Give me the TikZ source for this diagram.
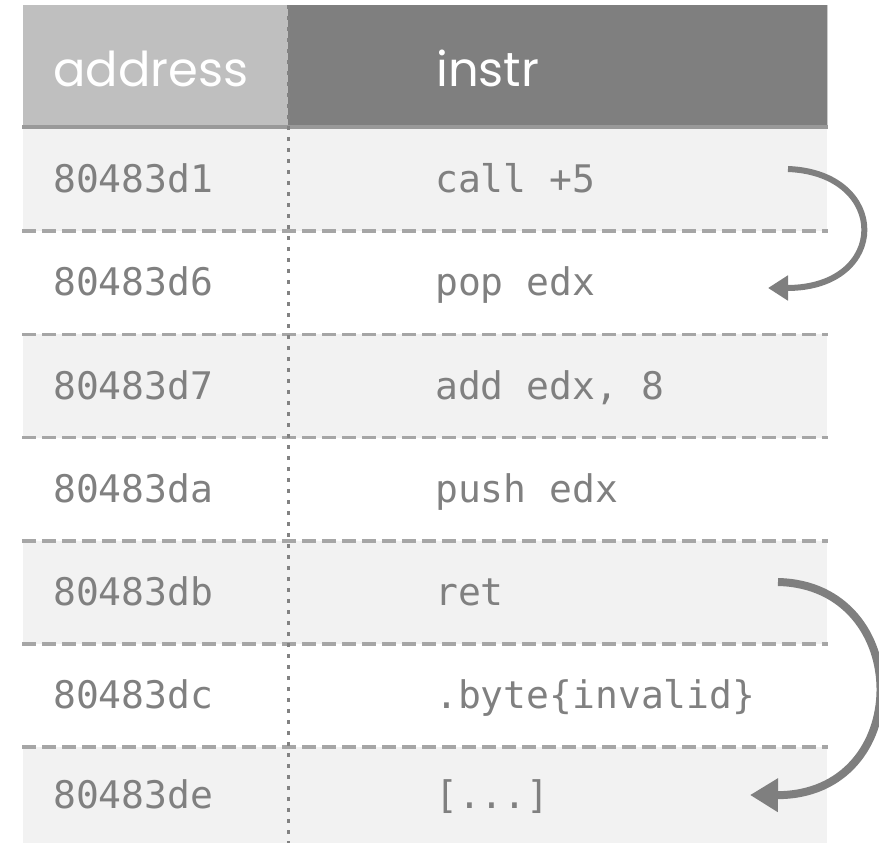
\documentclass[tikz,border=0pt]{standalone}
\usepackage{fontspec}
\setmainfont{Poppins}
\newfontfamily\monofont{DejaVu Sans Mono}
\usetikzlibrary{arrows.meta}
\definecolor{hdrlight}{HTML}{BFBFBF}
\definecolor{hdrdark}{HTML}{7F7F7F}
\definecolor{rowfill}{HTML}{F2F2F2}
\definecolor{linegray}{HTML}{A6A6A6}
\definecolor{txtgray}{HTML}{808080}
\definecolor{rulegray}{HTML}{999999}
\begin{document}
\begin{tikzpicture}[x=1pt,y=-1pt,
  hdrtext/.style={anchor=base west, inner sep=0pt, text=white, font=\fontsize{48}{52}\selectfont},
  celltext/.style={anchor=base west, inner sep=0pt, text=txtgray, font=\monofont\fontsize{38}{40}\selectfont},
  rowsep/.style={draw=linegray, line width=3.5pt, dash pattern=on 14pt off 6pt},
  jump/.style={draw=hdrdark, line width=6pt, -{Triangle[length=20pt,width=24pt]}},
  bigjump/.style={draw=hdrdark, line width=8pt, -{Triangle[length=28pt,width=32pt]}},
]
\useasboundingbox (0,0) rectangle (879,846);
% header
\fill[hdrlight] (23,5) rectangle (288,127);
\fill[hdrdark] (288,5) rectangle (827,127);
\draw[white!80!black, line width=1pt] (827,5) -- (827,127);
% row fills
\fill[rowfill] (23,128) rectangle (827,231.2);
\fill[rowfill] (23,334.4) rectangle (827,437.6);
\fill[rowfill] (23,540.8) rectangle (827,644);
\fill[rowfill] (23,747.2) rectangle (827,843);
% header rule
\draw[rulegray, line width=4pt] (22,127) -- (828,127);
% row separators
\foreach \y in {231.2,334.4,437.6,540.8,644,747.2}
  \draw[rowsep] (22,\y) -- (828,\y);
% column divider
\draw[rulegray!85!black, line width=3pt, dash pattern=on 4pt off 7pt] (288,5) -- (288,843);
% header text
\node[hdrtext] (haddr) at (53,86) {address};
\node[hdrtext] (hinstr) at (436,86) {instr};
% rows
\node[celltext] (a1) at (53,192.6) {80483d1};
\node[celltext] (i1) at (435,192.6) {call +5};
\node[celltext] (a2) at (53,295.8) {80483d6};
\node[celltext] (i2) at (435,295.8) {pop edx};
\node[celltext] (a3) at (53,399) {80483d7};
\node[celltext] (i3) at (435,399) {add edx, 8};
\node[celltext] (a4) at (53,502.2) {80483da};
\node[celltext] (i4) at (435,502.2) {push edx};
\node[celltext] (a5) at (53,605.4) {80483db};
\node[celltext] (i5) at (435,605.4) {ret};
\node[celltext] (a6) at (53,708.6) {80483dc};
\node[celltext] (i6) at (435,708.6) {.byte\{invalid\}};
\node[celltext] (a7) at (53,808) {80483de};
\node[celltext] (i7) at (435,808) {[...]};
% jumps
\coordinate (j1s) at (788,169);
\coordinate (j1e) at (768,288);
\coordinate (j2s) at (778,582);
\coordinate (j2e) at (750,795);
\draw[jump] (j1s) .. controls (890,173) and (890,288) .. (j1e);
\draw[bigjump] (j2s) .. controls (915,585) and (915,796) .. (j2e);
\end{tikzpicture}
\end{document}
